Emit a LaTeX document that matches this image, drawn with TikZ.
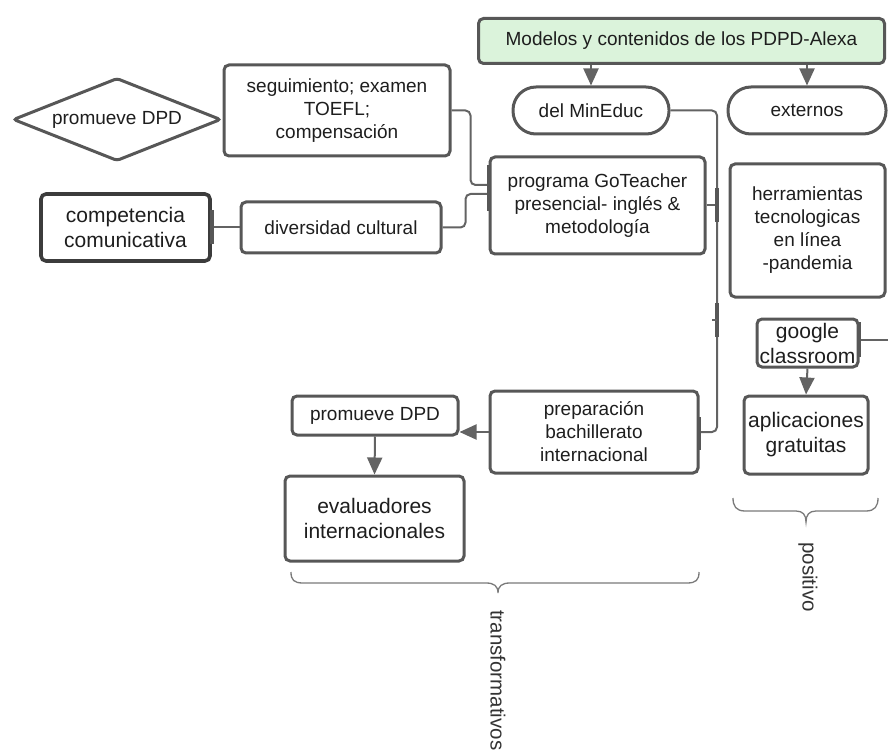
\documentclass[tikz,border=0pt]{standalone}
\usepackage{fontspec}
\setmainfont{Liberation Sans}
\usetikzlibrary{shapes.geometric,arrows.meta}

\definecolor{edge}{HTML}{575757}
\definecolor{edgedark}{HTML}{3C3C3C}
\definecolor{wire}{HTML}{636363}
\definecolor{mint}{HTML}{DBF3DB}
\definecolor{ink}{HTML}{1E1E1E}
\definecolor{bracegray}{HTML}{7A7A7A}
\definecolor{labelgray}{HTML}{333333}

\tikzset{
  box/.style={draw=edge, line width=3pt, rounded corners=5pt, fill=white,
              align=center, text=ink, inner sep=0pt,
              font=\fontsize{19}{23}\selectfont},
  bigtext/.style={font=\fontsize{21}{25}\selectfont},
  pill/.style={box, rounded corners=23pt},
  wire/.style={draw=wire, line width=2pt, rounded corners=5pt},
  arrowwire/.style={wire, -{Triangle[length=17pt,width=15pt]}},
  stub/.style={draw=edge, line width=3.5pt},
  bracepath/.style={draw=bracegray, line width=1.3pt},
  sidelabel/.style={rotate=-90, anchor=west, text=labelgray, inner sep=0pt,
                    font=\fontsize{20.5}{24}\selectfont}
}

\begin{document}
\begin{tikzpicture}[x=1pt, y=-1pt]
\useasboundingbox (0,0) rectangle (888,751);

% ---- boxes ----
\node[box, fill=mint, minimum width=406pt, minimum height=45pt] (top) at (681.5,41)
  {Modelos y contenidos de los PDPD-Alexa};
\node[pill, minimum width=156pt, minimum height=47pt] (mineduc) at (591,110.5) {del MinEduc};
\node[pill, minimum width=158pt, minimum height=47pt] (ext) at (807,110.5) {externos};

\node[box, diamond, aspect=2.5, rounded corners=3pt, minimum width=208pt, minimum height=83pt]
  (dpdA) at (117,119.5) {promueve DPD};
\node[box, minimum width=226pt, minimum height=91pt] (seg) at (337,110.5)
  {seguimiento; examen\\TOEFL;\\compensación};
\node[box, minimum width=215pt, minimum height=97pt] (prog) at (597.5,205.5)
  {programa GoTeacher\\presencial- inglés \&\\metodología};
\node[box, bigtext, draw=edgedark, line width=3.6pt, minimum width=169pt, minimum height=67pt]
  (comp) at (125.5,227.5) {competencia\\comunicativa};
\node[box, minimum width=200pt, minimum height=51pt] (div) at (341,227.5) {diversidad cultural};

\node[box, minimum width=155pt, minimum height=133pt] (tools) at (807.5,230.5)
  {herramientas\\tecnologicas\\en línea\\-pandemia};
\node[box, bigtext, minimum width=101pt, minimum height=48pt] (gclass) at (807.5,343)
  {google\\classroom};
\node[box, bigtext, minimum width=124pt, minimum height=78pt] (apps) at (806,435)
  {aplicaciones\\gratuitas};

\node[box, minimum width=208pt, minimum height=82pt] (prep) at (594,432)
  {preparación\\bachillerato\\internacional};
\node[box, minimum width=166pt, minimum height=39pt] (dpdB) at (375,415.5) {promueve DPD};
\node[box, bigtext, minimum width=179pt, minimum height=85pt] (evalr) at (374.5,518.5)
  {evaluadores\\internacionales};

% ---- free ends and the vertical bus ----
\coordinate (busTop) at (717,110.5);
\coordinate (busBot) at (717,432);
\coordinate (extOut) at (889,110.5);
\coordinate (gOut) at (889,340);

% ---- connectors ----
\draw[arrowwire] (top.south -| mineduc.north) -- (mineduc.north);
\draw[arrowwire] (top.south -| ext.north) -- (ext.north);
\draw[wire] (ext.east) -- (extOut);

\draw[wire] (mineduc.east) -- (busTop) -- (busBot) -- (prep.east);
\draw[wire] (prog.east) -- (prog.east -| busTop);

\draw[wire] (seg.east) -- ++(19,0) |- ([yshift=20.5pt]prog.west);
\draw[wire] (div.east) -- ++(23,0) |- ([yshift=11.5pt]prog.west);
\draw[wire] (comp.east) -- (div.west);

\draw[wire] ([yshift=3pt]gclass.east) -- ([yshift=3pt]gclass.east -| gOut);
\draw[arrowwire] (gclass.south) -- (apps.north);

\draw[arrowwire] (prep.west) -- (prep.west -| dpdB.east);
\draw[arrowwire] (dpdB.south) -- (evalr.north);

% ---- joint marks where connectors meet boxes ----
\draw[stub] ([yshift=40pt]prog.west) -- ([yshift=-6pt]prog.west);
\draw[stub] ([yshift=17pt]comp.east) -- ([yshift=-17pt]comp.east);
\draw[stub] ([yshift=15pt]prep.east) -- ([yshift=-18pt]prep.east);
\draw[stub] ([yshift=21pt]gclass.east) -- ([yshift=-14pt]gclass.east);
\draw[stub] ([yshift=17pt]prog.east -| busTop) -- ([yshift=-17pt]prog.east -| busTop);
\draw[stub] (717,303) -- (717,337);
\draw[wire, rounded corners=0pt] (712,320) -- (717,320);

% ---- braces and their labels ----
\draw[bracepath] (291,572) .. controls (291,580) and (294,583) .. (303,583)
  -- (486,583) .. controls (494,583) and (498,586) .. (498,593)
  .. controls (498,586) and (502,583) .. (510,583)
  -- (687,583) .. controls (696,583) and (699,580) .. (699,572);
\node[sidelabel] (lblT) at (498,610) {transformativos};

\draw[bracepath] (733,498) .. controls (733,506) and (736,511) .. (745,511)
  -- (796,511) .. controls (803,511) and (806,515) .. (806,522)
  .. controls (806,515) and (809,511) .. (816,511)
  -- (866,511) .. controls (875,511) and (878,506) .. (878,498);
\node[sidelabel] (lblP) at (808,542) {positivo};
\end{tikzpicture}
\end{document}
